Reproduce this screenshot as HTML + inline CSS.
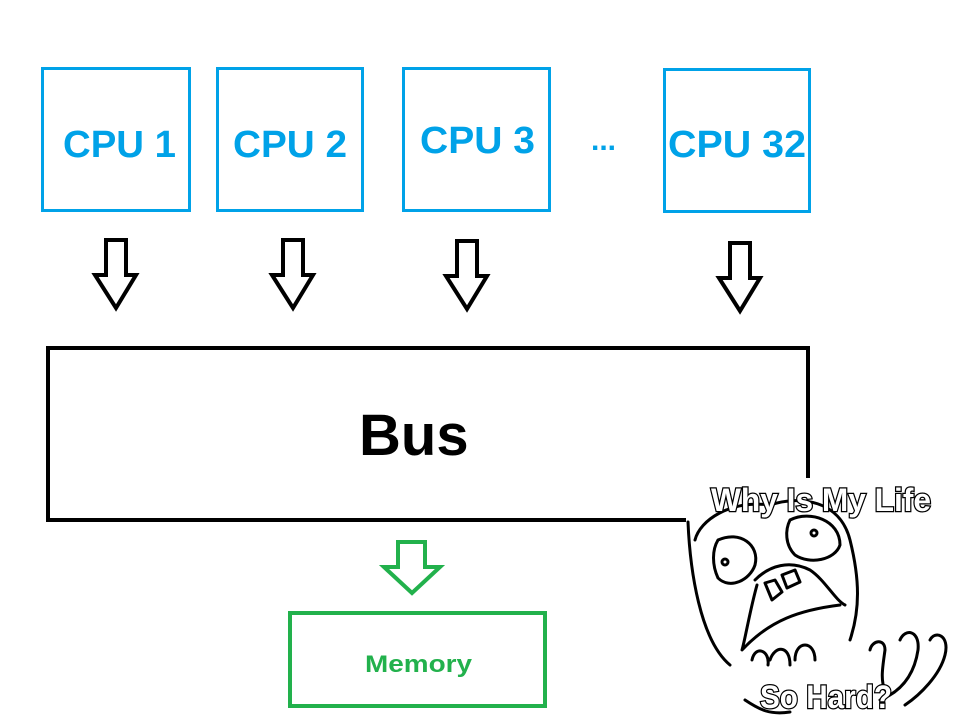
<!DOCTYPE html>
<html><head><style>
html,body{margin:0;padding:0;background:#fff;}
svg{display:block}
text{font-family:"Liberation Sans",sans-serif;font-weight:bold}
</style></head><body>
<svg width="970" height="724" viewBox="0 0 970 724" xmlns="http://www.w3.org/2000/svg">
<g fill="none" stroke="#00a2e8" stroke-width="3">
<rect x="42.5" y="68.5" width="147" height="142"/>
<rect x="217.5" y="68.5" width="145" height="142"/>
<rect x="403.5" y="68.5" width="146" height="142"/>
<rect x="664.5" y="69.5" width="145" height="142"/>
</g>
<g fill="#00a2e8" font-size="38">
<text x="63" y="157" textLength="113" lengthAdjust="spacingAndGlyphs">CPU 1</text>
<text x="233" y="157" textLength="114" lengthAdjust="spacingAndGlyphs">CPU 2</text>
<text x="420" y="153" textLength="115" lengthAdjust="spacingAndGlyphs">CPU 3</text>
<text x="668" y="157" textLength="138" lengthAdjust="spacingAndGlyphs">CPU 32</text>
<text x="591" y="150" font-size="30">...</text>
</g>
<g fill="none" stroke="#000" stroke-width="4" stroke-linejoin="miter">
<path d="M106,240 H126 V275 H136 L116,308 L95,275 H106 Z"/>
<path d="M283,240 H303 V275 H313 L293,308 L272,275 H283 Z"/>
<path d="M457,241 H477 V276 H487 L467,309 L446,276 H457 Z"/>
<path d="M730,243 H750 V278 H760 L740,311 L719,278 H730 Z"/>
</g>
<rect x="48" y="348" width="760" height="172" fill="none" stroke="#000" stroke-width="4"/>
<text x="359" y="455" font-size="58" fill="#000">Bus</text>
<path d="M398,542 H425 V567 H440 L412,593 L384,567 H398 Z" fill="none" stroke="#22b14c" stroke-width="4"/>
<rect x="290" y="613" width="255" height="93" fill="none" stroke="#22b14c" stroke-width="4"/>
<text x="365" y="672" font-size="24" fill="#22b14c" textLength="107" lengthAdjust="spacingAndGlyphs">Memory</text>
<!-- rage face -->
<rect x="686" y="478" width="284" height="246" fill="#fff"/>
<g fill="none" stroke="#000" stroke-width="3" stroke-linecap="round" stroke-linejoin="round">
<path d="M688,522 C690,570 700,640 730,665"/>
<path d="M695,540 C700,520 730,500 770,505 C800,495 840,500 850,540 C860,580 860,610 850,640"/>
<path d="M718,540 C740,530 760,545 755,565 C750,580 730,590 718,578 C712,565 712,550 718,540 Z"/>
<circle cx="725" cy="562" r="3"/>
<path d="M790,520 C810,510 840,520 840,545 C835,560 810,565 795,555 C785,545 785,530 790,520 Z"/>
<circle cx="814" cy="533" r="3"/>
<path d="M755,580 C770,565 790,560 810,570 C825,580 835,600 845,605"/>
<path d="M765,583 L775,580 L782,592 L772,600 Z M782,575 L795,570 L800,582 L787,588 Z"/>
<path d="M757,585 C750,610 745,640 742,650 C770,620 800,610 840,605"/>
<path d="M752,660 C755,645 770,650 768,665 M770,660 C775,645 790,645 790,665 M795,660 C795,640 815,640 815,660"/>
<path d="M870,650 C872,640 885,638 885,650 C883,665 880,680 885,690 M900,640 C905,628 920,630 918,650 C915,670 905,690 880,700 M930,640 C935,630 950,635 945,655 C940,675 920,695 905,705"/>
<path d="M745,700 C760,710 770,715 790,712"/>
</g>
<g font-size="32" fill="#fff" stroke="#000" stroke-width="2.5" paint-order="stroke" style="font-family:'Liberation Sans Narrow','Liberation Sans',sans-serif">
<text x="711" y="511" textLength="220" lengthAdjust="spacingAndGlyphs">Why Is My  Life</text>
<text x="760" y="708" textLength="132" lengthAdjust="spacingAndGlyphs">So Hard?</text>
</g>
</svg>
</body></html>
